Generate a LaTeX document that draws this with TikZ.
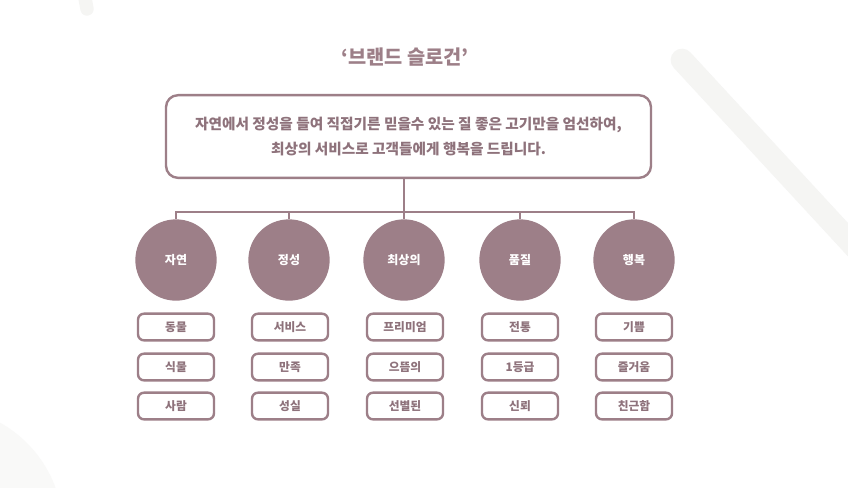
\documentclass[tikz,border=0pt]{standalone}
\usepackage{fontspec}
\setmainfont{Noto Sans CJK KR}
\usepackage{tikz}
\usetikzlibrary{positioning, shapes}

\definecolor{mauve}{HTML}{9D7F88}
\definecolor{mauvetext}{HTML}{8E727B}
\definecolor{deco}{HTML}{F5F5F3}

\tikzset{
  slogan/.style={draw=mauve, line width=1.8pt, rounded corners=9pt, minimum width=363.75pt, minimum height=62pt, align=center, text=mauvetext, font=\fontsize{11}{18.75}\selectfont\bfseries},
  value/.style={circle, fill=mauve, minimum size=61pt, inner sep=0pt, text=white, font=\fontsize{9}{10}\selectfont\bfseries},
  word/.style={draw=mauve, line width=1.8pt, rounded corners=4.5pt, minimum width=57pt, minimum height=20pt, inner sep=0pt, text=mauvetext, font=\fontsize{8.8}{10}\selectfont\bfseries},
  link/.style={draw=mauve, line width=2pt}
}

\begin{document}
\begin{tikzpicture}[x=0.75pt,y=-0.75pt]

\fill [white] (0,0) rectangle (848,487);
\useasboundingbox (0,0) rectangle (848,487);

% background strokes
\begin{scope}
\clip (0,0) rectangle (848,487);
\draw [deco, line width=10pt, line cap=round] (87,9) -- (80,-30);
\draw [deco, line width=17pt, line cap=round] (682,60) -- (900,296);
\fill [deco!60] (-60,530) circle (123);
\end{scope}

% title
\node (title) at (405,57) [text=mauve, font=\fontsize{14.8}{16}\selectfont\bfseries] {‘브랜드 슬로건’};

% slogan
\node (slogan) at (408.5,136.5) [slogan] {자연에서 정성을 들여 직접기른 믿을수 있는 질 좋은 고기만을 엄선하여,\\최상의 서비스로 고객들에게 행복을 드립니다.};

% values
\node (c1) at (176,260) [value] {자연};
\node (c2) at (289,260) [value] {정성};
\node (c3) at (404,260) [value] {최상의};
\node (c4) at (520,260) [value] {품질};
\node (c5) at (634,260) [value] {행복};

\coordinate (bus) at (404,212);
\draw [link] (bus |- slogan.south) -- (bus);
\draw [link] (bus) -| (c1.north);
\draw [link] (bus) -| (c2.north);
\draw [link] (bus) -- (c3.north);
\draw [link] (bus) -| (c4.north);
\draw [link] (bus) -| (c5.north);

% words
\node (w11) at (176,327) [word] {동물};
\node (w12) at (176,367) [word] {식물};
\node (w13) at (176,406) [word] {사람};

\node (w21) at (290,327) [word] {서비스};
\node (w22) at (290,367) [word] {만족};
\node (w23) at (290,406) [word] {성실};

\node (w31) at (405,327) [word] {프리미엄};
\node (w32) at (405,367) [word] {으뜸의};
\node (w33) at (405,406) [word] {선별된};

\node (w41) at (520,327) [word] {전통};
\node (w42) at (520,367) [word] {1등급};
\node (w43) at (520,406) [word] {신뢰};

\node (w51) at (634,327) [word] {기쁨};
\node (w52) at (634,367) [word] {즐거움};
\node (w53) at (634,406) [word] {친근함};

\end{tikzpicture}
\end{document}
